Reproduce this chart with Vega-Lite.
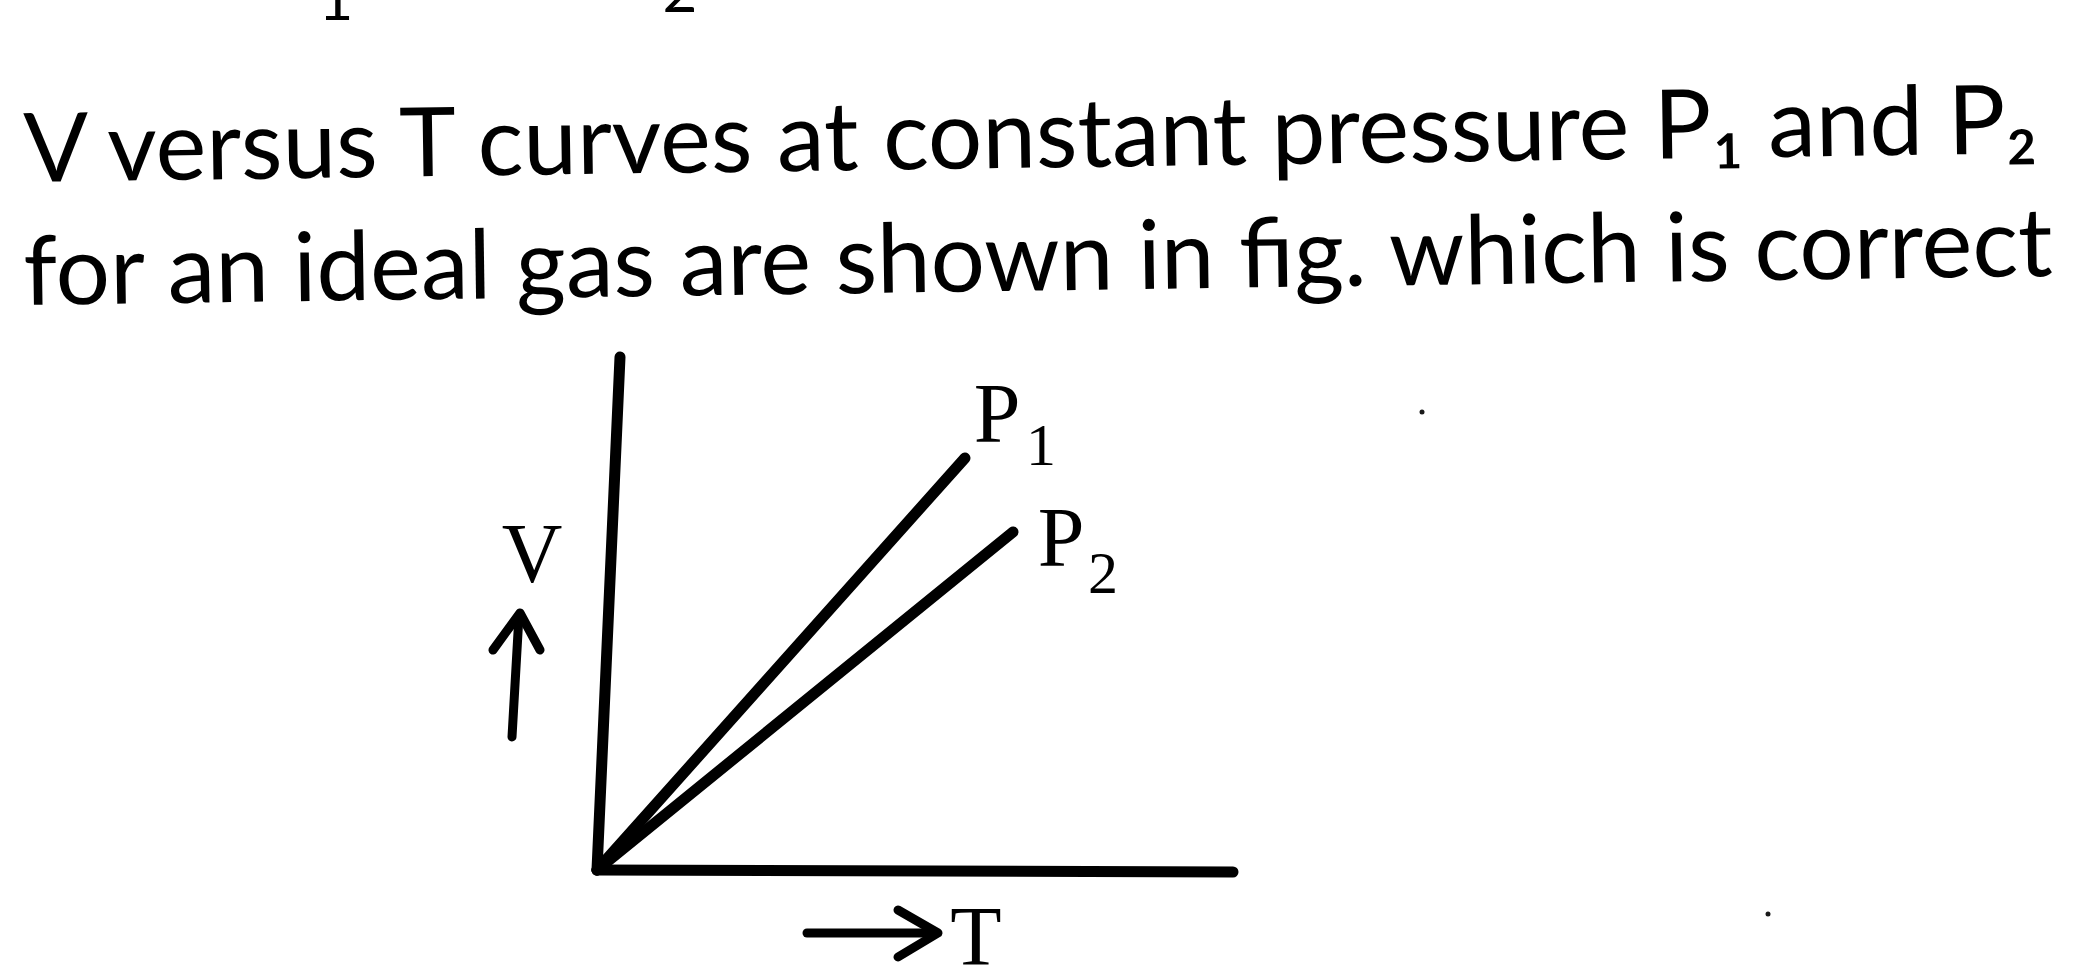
{
  "$schema": "https://vega.github.io/schema/vega-lite/v6.json",
  "width": 2084,
  "height": 972,
  "autosize": {"type": "none"},
  "padding": 0,
  "background": "white",
  "config": {"view": {"stroke": null}},
  "datasets": {
    "lines": [
      {"id": "V axis", "T": 0, "V": 0, "ord": 0},
      {"id": "V axis", "T": 23, "V": 513, "ord": 1},
      {"id": "T axis", "T": 0, "V": 0, "ord": 0},
      {"id": "T axis", "T": 636, "V": -2, "ord": 1},
      {"id": "P1", "T": 0, "V": 0, "ord": 0},
      {"id": "P1", "T": 368, "V": 412, "ord": 1},
      {"id": "P2", "T": 0, "V": 0, "ord": 0},
      {"id": "P2", "T": 416, "V": 338, "ord": 1}
    ],
    "arrows": [
      {"id": "V shaft", "T": -85, "V": 133, "ord": 0},
      {"id": "V shaft", "T": -78, "V": 255, "ord": 1},
      {"id": "V head", "T": -104, "V": 220, "ord": 0},
      {"id": "V head", "T": -77, "V": 257, "ord": 1},
      {"id": "V head", "T": -57, "V": 220, "ord": 2},
      {"id": "T shaft", "T": 210, "V": -63, "ord": 0},
      {"id": "T shaft", "T": 338, "V": -63, "ord": 1},
      {"id": "T head", "T": 301, "V": -40, "ord": 0},
      {"id": "T head", "T": 341, "V": -63, "ord": 1},
      {"id": "T head", "T": 301, "V": -87, "ord": 2}
    ],
    "labels": [
      {"role": "label", "text": "P", "T": 400, "V": 428},
      {"role": "label", "text": "P", "T": 464, "V": 304},
      {"role": "label", "text": "V", "T": -65, "V": 288},
      {"role": "label", "text": "T", "T": 379, "V": -95},
      {"role": "sub", "text": "1", "T": 444, "V": 405},
      {"role": "sub", "text": "2", "T": 506, "V": 277}
    ],
    "question": [
      {"line": 1, "text": "V versus T curves at constant pressure P₁ and P₂", "T": -573, "V": 688},
      {"line": 2, "text": "for an ideal gas are shown in fig. which is correct", "T": -573, "V": 565}
    ],
    "cut": [
      {"text": "1", "T": -261, "V": 850},
      {"text": "2", "T": 83, "V": 858}
    ],
    "specks": [
      {"T": 825, "V": 458},
      {"T": 1171, "V": -44}
    ]
  },
  "encoding": {
    "x": {"field": "T", "type": "quantitative", "scale": {"domain": [-597, 1487], "nice": false, "zero": false}, "axis": null},
    "y": {"field": "V", "type": "quantitative", "scale": {"domain": [-102, 870], "nice": false, "zero": false}, "axis": null}
  },
  "layer": [
    {
      "data": {"name": "lines"},
      "mark": {"type": "line", "color": "black", "strokeWidth": 11, "strokeCap": "round", "strokeJoin": "round"},
      "encoding": {"detail": {"field": "id"}, "order": {"field": "ord"}}
    },
    {
      "data": {"name": "arrows"},
      "mark": {"type": "line", "color": "black", "strokeWidth": 9, "strokeCap": "round", "strokeJoin": "round"},
      "encoding": {"detail": {"field": "id"}, "order": {"field": "ord"}}
    },
    {
      "data": {"name": "labels"},
      "transform": [{"filter": "datum.role === 'label'"}],
      "mark": {"type": "text", "font": "Liberation Serif", "fontSize": 84, "baseline": "alphabetic", "align": "center", "color": "black"},
      "encoding": {"text": {"field": "text"}}
    },
    {
      "data": {"name": "labels"},
      "transform": [{"filter": "datum.role === 'sub'"}],
      "mark": {"type": "text", "font": "Liberation Serif", "fontSize": 60, "baseline": "alphabetic", "align": "center", "color": "black"},
      "encoding": {"text": {"field": "text"}}
    },
    {
      "data": {"name": "question"},
      "mark": {"type": "text", "font": "Lato", "fontSize": 96, "baseline": "alphabetic", "align": "left", "angle": -0.82, "color": "black"},
      "encoding": {"text": {"field": "text"}}
    },
    {
      "data": {"name": "cut"},
      "mark": {"type": "text", "font": "Lato", "fontSize": 60, "baseline": "alphabetic", "align": "center", "clip": true, "color": "black"},
      "encoding": {"text": {"field": "text"}}
    },
    {
      "data": {"name": "specks"},
      "mark": {"type": "point", "filled": true, "color": "black", "size": 25, "opacity": 0.9},
      "encoding": {}
    }
  ]
}
